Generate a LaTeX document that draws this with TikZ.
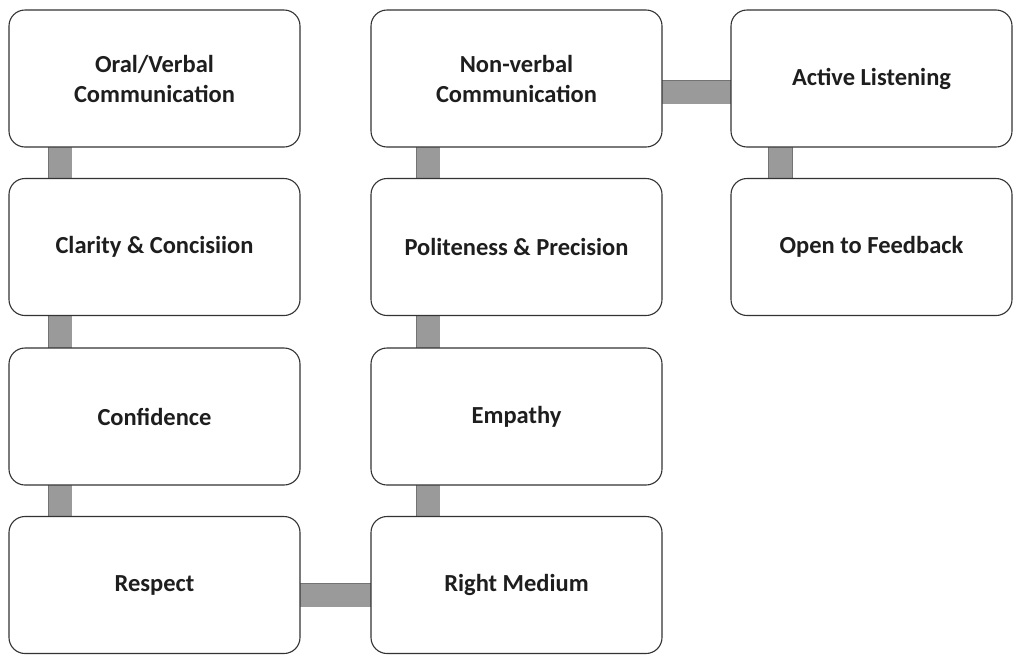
\documentclass[tikz,border=0pt]{standalone}
\usepackage{fontspec}
\setmainfont{Carlito}
\usetikzlibrary{backgrounds}
\definecolor{edge}{HTML}{333333}
\definecolor{barfill}{HTML}{9A9A9A}
\definecolor{barline}{HTML}{737373}
\definecolor{ink}{HTML}{1E1E1E}
\tikzset{
  every picture/.style={line join=round, line cap=round},
  skill/.style={draw=edge, line width=1.1pt, fill=white, rounded corners=16pt, outer sep=0pt,
    minimum width=291pt, minimum height=137pt, align=center, text=ink,
    font=\fontsize{24.5}{30}\selectfont\bfseries},
  link/.style={draw=barline, line width=0.8pt, double=barfill, double distance=23pt, line cap=butt},
}

\begin{document}
\begin{tikzpicture}[x=1pt,y=1pt]
\useasboundingbox (0,0) rectangle (1013,-654);
\node[skill] (oral) at (154.5,-78.5) {Oral/Verbal\\Communication};
\node[skill] (clarity) at (154.5,-247) {Clarity \& Concisiion};
\node[skill] (confidence) at (154.5,-416.5) {Confidence};
\node[skill] (respect) at (154.5,-585) {Respect};
\node[skill] (nonverbal) at (516.5,-78.5) {Non-verbal\\Communication};
\node[skill] (politeness) at (516.5,-247) {Politeness \& Precision};
\node[skill] (empathy) at (516.5,-416.5) {Empathy};
\node[skill] (medium) at (516.5,-585) {Right Medium};
\node[skill,minimum width=281pt] (listening) at (871.5,-78.5) {Active Listening};
\node[skill,minimum width=281pt] (feedback) at (871.5,-247) {Open to Feedback};
\begin{scope}[on background layer]
\draw[link] ([xshift=51pt]oral.south west) -- ([xshift=51pt]clarity.north west);
\draw[link] ([xshift=51pt]clarity.south west) -- ([xshift=51pt]confidence.north west);
\draw[link] ([xshift=51pt]confidence.south west) -- ([xshift=51pt]respect.north west);
\draw[link] ([xshift=57pt]nonverbal.south west) -- ([xshift=57pt]politeness.north west);
\draw[link] ([xshift=57pt]politeness.south west) -- ([xshift=57pt]empathy.north west);
\draw[link] ([xshift=57pt]empathy.south west) -- ([xshift=57pt]medium.north west);
\draw[link] ([xshift=49.5pt]listening.south west) -- ([xshift=49.5pt]feedback.north west);
\draw[link] ([yshift=-13.5pt]nonverbal.east) -- ([yshift=-13.5pt]listening.west);
\draw[link] ([yshift=-10pt]respect.east) -- ([yshift=-10pt]medium.west);
\end{scope}
\end{tikzpicture}
\end{document}
